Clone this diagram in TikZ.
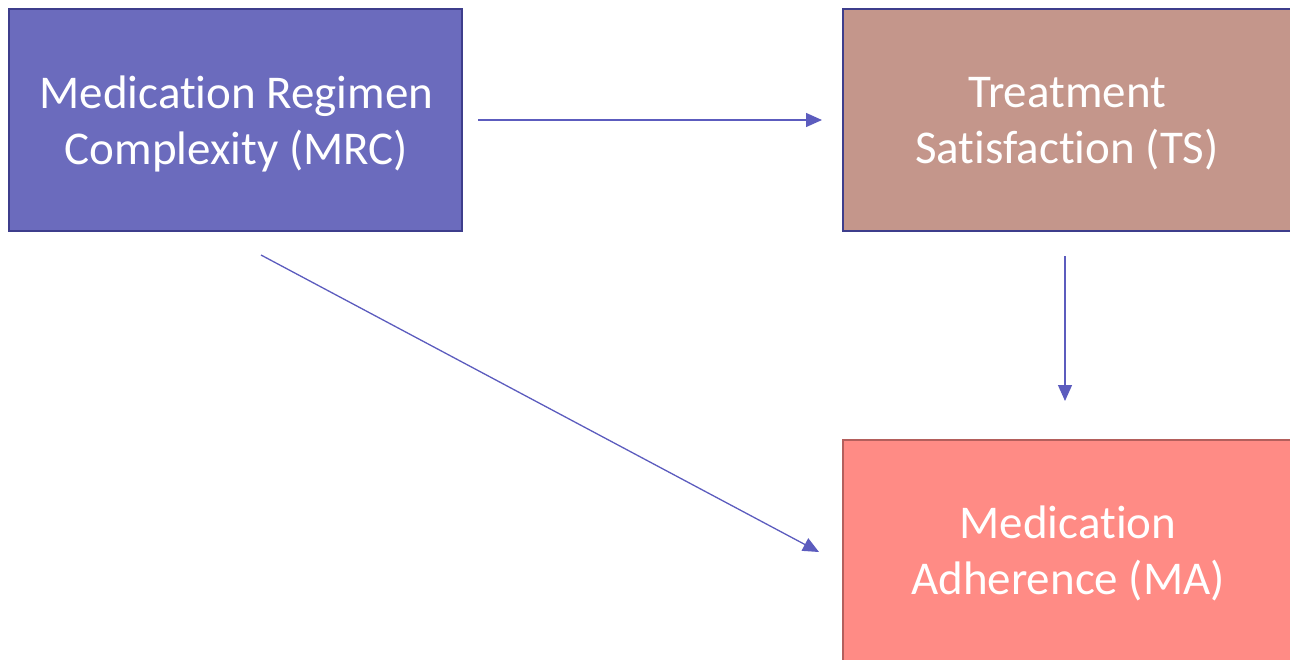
\documentclass[tikz,border=0pt]{standalone}
\usepackage{fontspec}
\setmainfont{Carlito}[RawFeature={-liga;-clig}]
\usetikzlibrary{arrows.meta,calc}
\definecolor{mrcfill}{RGB}{107,107,189}
\definecolor{mrcline}{RGB}{62,62,140}
\definecolor{tsfill}{RGB}{196,150,139}
\definecolor{mafill}{RGB}{255,139,133}
\definecolor{maline}{RGB}{180,95,92}
\definecolor{arrowc}{RGB}{92,92,190}
\tikzset{
  box/.style={draw, line width=2pt, minimum height=222pt, inner sep=0pt},
  boxtext/.style={text=white, align=center, inner sep=0pt, font=\fontsize{47}{56}\selectfont},
  link/.style={draw=arrowc, line width=1.3pt, -{Triangle[length=16pt,width=14pt]}}
}
\begin{document}
\begin{tikzpicture}[x=1pt,y=-1pt]
\useasboundingbox (0,0) rectangle (1290,659);
\clip (0,0) rectangle (1290,659);
\node[box, fill=mrcfill, draw=mrcline, minimum width=453pt] (MRC) at (235.5,120) {};
\node[box, fill=tsfill, draw=mrcline, minimum width=448pt] (TS) at (1067,120) {};
\node[box, fill=mafill, draw=maline, minimum width=448pt] (MA) at (1067,551) {};
\node[boxtext] (MRCt) at ($(MRC.center)+(1,4)$) {Medication Regimen\\Complexity (MRC)};
\node[boxtext] (TSt) at ($(TS.center)+(0,4)$) {Treatment\\Satisfaction (TS)};
\node[boxtext] (MAt) at ($(MA.center)+(1,2)$) {Medication\\Adherence (MA)};
\draw[link, shorten <=15pt, shorten >=20pt] (MRC) -- (TS);
\draw[link, shorten <=24pt, shorten >=38pt] ([xshift=-2pt]TS.south) -- ([xshift=-2pt]MA.north);
\coordinate (d1) at (261,255);
\draw[link] (d1) -- ($(MA.west)+(-23,1)$);
\end{tikzpicture}
\end{document}
